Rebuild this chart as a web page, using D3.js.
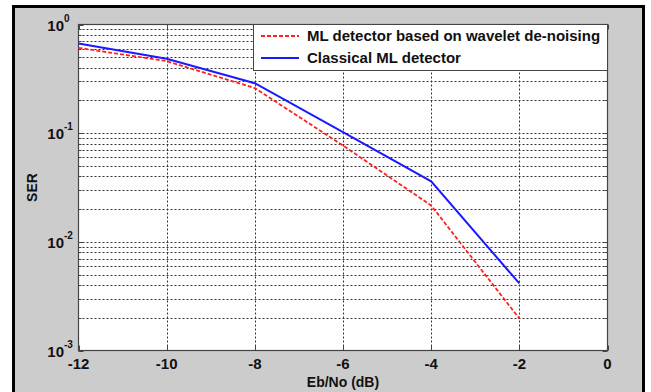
<!DOCTYPE html>
<html>
<head>
<meta charset="utf-8">
<script src="https://cdn.jsdelivr.net/npm/d3@7"></script>
<style>
  body { margin: 0; background: #fff; }
  svg text { font-family: "Liberation Sans", Arial, sans-serif; font-weight: bold; fill: #111; }
</style>
</head>
<body>
<svg id="chart" width="651" height="392"></svg>
<script>
const ebno = [-12, -10, -8, -6, -4, -2];
const serWavelet = [0.61, 0.46, 0.26, 0.077, 0.0216, 0.00197];
const serClassical = [0.67, 0.483, 0.288, 0.102, 0.036, 0.00414];
const xTicks = [-12, -10, -8, -6, -4, -2, 0];
const yDecades = [0, -1, -2, -3];
const legendLabels = ['ML detector based on wavelet de-noising', 'Classical ML detector'];

const svg = d3.select('#chart');

// outer figure frame
svg.append('rect').attr('x', 13.5).attr('y', 6.5).attr('width', 630).attr('height', 400)
    .attr('fill', '#cccccc').attr('stroke', '#000').attr('stroke-width', 3);

const plotL = 78.5, plotR = 607.5, plotT = 24.5, plotB = 350.5;

const x = d3.scaleLinear().domain([-12, 0]).range([plotL, plotR]);
const y = d3.scaleLog().domain([1e-3, 1]).range([plotB, plotT]);

svg.append('rect').attr('x', plotL).attr('y', plotT).attr('width', plotR - plotL).attr('height', plotB - plotT)
    .attr('fill', '#fff');

// grid lines
const minor = [];
for (let e = -3; e < 0; e++) {
    for (let m = 1; m <= 9; m++) minor.push(m * Math.pow(10, e));
}
minor.push(1);

const grid = svg.append('g').attr('stroke', '#333').attr('stroke-width', 1)
    .attr('stroke-dasharray', '2,2');
grid.selectAll('line.h').data(minor.filter(v => v > 1e-3 && v < 1)).enter().append('line')
    .attr('x1', plotL).attr('x2', plotR)
    .attr('y1', d => Math.round(y(d)) + 0.5).attr('y2', d => Math.round(y(d)) + 0.5);
grid.selectAll('line.v').data(xTicks.slice(1, -1)).enter().append('line')
    .attr('y1', plotT).attr('y2', plotB)
    .attr('x1', d => Math.round(x(d)) + 0.5).attr('x2', d => Math.round(x(d)) + 0.5);

// axes box + ticks
svg.append('rect').attr('x', plotL).attr('y', plotT).attr('width', plotR - plotL).attr('height', plotB - plotT)
    .attr('fill', 'none').attr('stroke', '#444').attr('stroke-width', 1.2);

const ticks = svg.append('g').attr('stroke', '#444').attr('stroke-width', 1);
xTicks.forEach(t => {
    const px = Math.round(x(t)) + 0.5;
    ticks.append('line').attr('x1', px).attr('x2', px).attr('y1', plotB).attr('y2', plotB - 5);
    ticks.append('line').attr('x1', px).attr('x2', px).attr('y1', plotT).attr('y2', plotT + 5);
});
minor.forEach(v => {
    const py = Math.round(y(v)) + 0.5;
    const major = Math.abs(Math.log10(v) - Math.round(Math.log10(v))) < 1e-9;
    const len = major ? 5 : 3;
    ticks.append('line').attr('x1', plotL).attr('x2', plotL + len).attr('y1', py).attr('y2', py);
    ticks.append('line').attr('x1', plotR).attr('x2', plotR - len).attr('y1', py).attr('y2', py);
});

// tick labels
svg.selectAll('text.xt').data(xTicks).enter().append('text')
    .attr('x', d => x(d)).attr('y', 369)
    .attr('text-anchor', 'middle').attr('font-size', 15)
    .text(d => d);

const yl = svg.selectAll('g.yt').data(yDecades).enter().append('g')
    .attr('transform', d => `translate(0, ${y(Math.pow(10, d))})`);
yl.append('text').attr('x', 64).attr('y', 6).attr('text-anchor', 'end').attr('font-size', 15).text('10');
yl.append('text').attr('x', 64).attr('y', -3).attr('font-size', 10).text(d => d);

// axis titles
svg.append('text').attr('x', (plotL + plotR) / 2).attr('y', 387).attr('text-anchor', 'middle')
    .attr('font-size', 14).text('Eb/No (dB)');
svg.append('text').attr('transform', `translate(37, ${(plotT + plotB) / 2}) rotate(-90)`)
    .attr('text-anchor', 'middle').attr('font-size', 14).text('SER');

// series
const line = d3.line().x((d, i) => x(ebno[i])).y(d => y(d));
svg.append('path').datum(serClassical).attr('d', line).attr('fill', 'none')
    .attr('stroke', '#1a1aff').attr('stroke-width', 2);
svg.append('path').datum(serWavelet).attr('d', line).attr('fill', 'none')
    .attr('stroke', '#ff2020').attr('stroke-width', 1.8).attr('stroke-dasharray', '4,2');

// legend
const lg = svg.append('g');
lg.append('rect').attr('x', 253.5).attr('y', plotT).attr('width', plotR - 253.5).attr('height', 46)
    .attr('fill', '#fff').attr('stroke', '#444').attr('stroke-width', 1);
const styles = [
    { color: '#ff2020', dash: '4,2', w: 1.8 },
    { color: '#1a1aff', dash: null, w: 2 }
];
legendLabels.forEach((lab, i) => {
    const ly = 36 + i * 22;
    lg.append('line').attr('x1', 261).attr('x2', 299).attr('y1', ly).attr('y2', ly)
        .attr('stroke', styles[i].color).attr('stroke-width', styles[i].w)
        .attr('stroke-dasharray', styles[i].dash);
    lg.append('text').attr('x', 307).attr('y', ly + 5).attr('font-size', 15).text(lab);
});
</script>
</body>
</html>
